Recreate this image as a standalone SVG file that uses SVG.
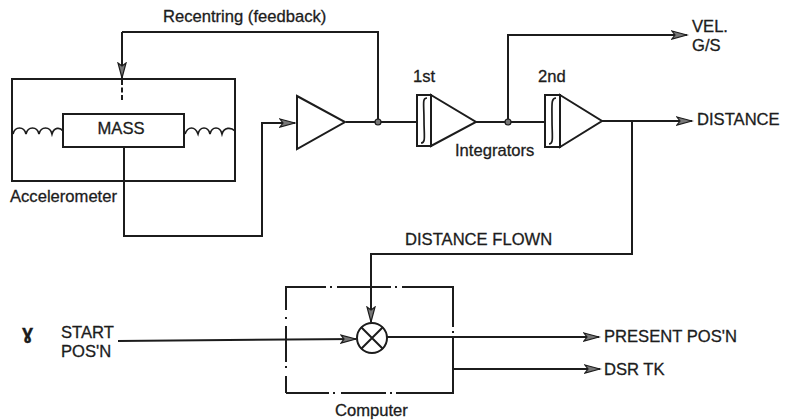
<svg xmlns="http://www.w3.org/2000/svg" width="791" height="420" viewBox="0 0 791 420">
<style>
.l{fill:none;stroke:#1c1c1c;stroke-width:2}
.t{font-family:"Liberation Sans",Arial,sans-serif;font-size:16.6px;fill:#1c1c1c;stroke:#1c1c1c;stroke-width:.3px}
.n{fill:#fff;stroke:#1c1c1c;stroke-width:2}
.s{fill:none;stroke:#1c1c1c;stroke-width:1.7}
</style>
<defs>
<marker id="a" markerUnits="userSpaceOnUse" markerWidth="18" markerHeight="10" refX="16" refY="5" orient="auto"><path d="M1 1 L16 5 L1 9 L4 5 Z" fill="#777" stroke="#1c1c1c" stroke-width="1.2"/></marker>
</defs>
<rect width="791" height="420" fill="#fff"/>
<g id="connectors">
<path class="l" d="M122 32 H378 V122"/>
<path class="l" d="M122 32 V78" marker-end="url(#a)"/>
<path class="l" d="M122 80 V100" stroke-dasharray="5 2.5"/>
<path class="l" d="M124 147 V236 H262 V123 H295" marker-end="url(#a)"/>
<path class="l" d="M346 122 H417"/>
<path class="l" d="M476 122 H545"/>
<path class="l" d="M508 122 V35 H687" marker-end="url(#a)"/>
<path class="l" d="M602 121 H692" marker-end="url(#a)"/>
<path class="l" d="M632 121 V254 H371 V322" marker-end="url(#a)"/>
<path class="l" d="M118 341 L356 339" marker-end="url(#a)"/>
<path class="l" d="M387 337 H599" marker-end="url(#a)"/>
<path class="l" d="M454 369 H600" marker-end="url(#a)"/>
<circle cx="378" cy="122" r="3" fill="#777" stroke="#1c1c1c" stroke-width="1.2"/>
<circle cx="508" cy="122" r="3" fill="#777" stroke="#1c1c1c" stroke-width="1.2"/>
</g>
<g id="accelerometer">
<rect class="l" x="12" y="79" width="223" height="102"/>
<path class="s" d="M13 134 C15 126 24 126 26 134 C28 126 37 126 39 134 C41 126 50 126 52 134 C54 127 60 127 63 131"/>
<path class="s" d="M185 134 C188 126 195 126 198 134 C200 126 208 126 210 134 C212 126 220 126 222 134 C224 127 231 127 235 131"/>
<text class="t" x="10" y="202">Accelerometer</text>
</g>
<g id="mass">
<rect class="l" x="63" y="114" width="121" height="33"/>
<text class="t" x="121" y="134" text-anchor="middle">MASS</text>
</g>
<g id="amplifier">
<path class="n" d="M297 96 L345 122 L297 149 Z"/>
</g>
<g id="integrator1">
<path class="n" d="M431 95 L476 122 L431 146 Z"/>
<rect class="n" x="417" y="95" width="14" height="51"/>
<path class="s" d="M427 98 C422 98 424 104 424 120 C424 136 426 143 421 143"/>
<text class="t" x="413" y="82">1st</text>
</g>
<g id="integrator2">
<path class="n" d="M560 95 L602 121 L560 147 Z"/>
<rect class="n" x="545" y="95" width="15" height="52"/>
<path class="s" d="M556 98 C551 98 552 104 552 120 C552 136 554 144 549 144"/>
<text class="t" x="538" y="82">2nd</text>
</g>
<g id="computer">
<path class="l" d="M285 287 H454" stroke-dasharray="41 4 2 5 54 4 2 5 60"/>
<path class="l" d="M286 393 H454" stroke-dasharray="43 4 2 6 45 4 2 4 60"/>
<path class="l" d="M286 287 V393" stroke-dasharray="23 7 2 7 36 4 2 8 20"/>
<path class="l" d="M453 286 V394" stroke-dasharray="41 4 2 4 70"/>
<text class="t" x="335" y="416">Computer</text>
</g>
<g id="summing">
<circle class="n" cx="372" cy="338" r="15"/>
<path class="l" d="M361 327 L383 349 M383 327 L361 349"/>
</g>
<g id="labels">
<text class="t" x="163" y="22">Recentring (feedback)</text>
<text class="t" x="455" y="156">Integrators</text>
<text class="t" x="692" y="32">VEL.</text>
<text class="t" x="692" y="51">G/S</text>
<text class="t" x="697" y="125">DISTANCE</text>
<text class="t" x="405" y="245">DISTANCE FLOWN</text>
<text class="t" x="61" y="338">START</text>
<text class="t" x="61" y="357">POS'N</text>
<text class="t" x="604" y="342">PRESENT POS'N</text>
<text class="t" x="604" y="375">DSR TK</text>
<text class="t" x="22" y="339" style="font-size:20px;font-weight:bold">ɣ</text>
</g>
</svg>
